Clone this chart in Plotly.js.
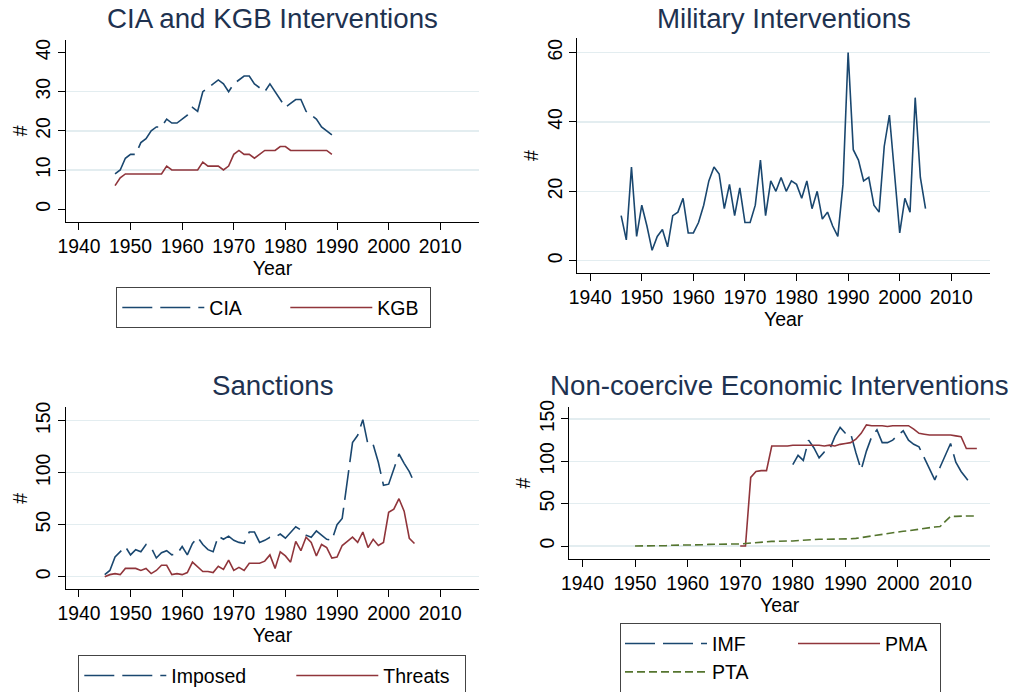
<!DOCTYPE html>
<html><head><meta charset="utf-8">
<script src="https://cdn.plot.ly/plotly-3.0.1.min.js"></script>
<style>html,body{margin:0;padding:0;background:#fff;} #chart{width:1015px;height:692px;}</style>
</head><body><div id="chart"></div>
<script>
// ---- data ----
const ciaStart = 1947;
const cia = [9,10,13,14,14,17,18,20,21,21,23,22,22,23,24,26,25,30,31,32,33,32,30,32,33,34,34,32,31,30,32,30,28,26,27,28,28,25,24,23,21,20,19];
const kgbStart = 1947;
const kgb = [6,8,9,9,9,9,9,9,9,9,11,10,10,10,10,10,10,12,11,11,11,10,11,14,15,14,14,13,14,15,15,15,16,16,15,15,15,15,15,15,15,15,14];
const milStart = 1946;
const military = [13,6,27,7,16,10,3,7,9,4,13,14,18,8,8,11,16,23,27,25,15,22,13,21,11,11,16,29,13,23,20,24,20,23,22,18,23,15,20,12,14,10,7,22,60,32,29,23,24,16,14,33,42,25,8,18,14,47,24,15];
const impStart = 1945;
const imposed = [2,6,19,24,29,21,26,24,31,28,18,23,25,21,22,29,21,32,38,31,26,24,39,36,39,35,33,32,43,43,33,35,38,38,41,37,42,48,45,40,38,44,40,36,35,50,56,93,129,136,151,127,127,110,88,89,103,118,109,101,90];
const thrStart = 1945;
const threats = [0,2,3,2,8,8,8,6,8,3,6,11,11,2,3,2,4,14,9,5,5,4,10,7,16,6,9,6,13,13,13,15,21,8,24,20,14,34,25,38,33,20,31,28,18,19,30,34,38,33,43,28,36,30,33,62,65,75,63,37,32];
const imfStart = 1980;
const imf = [96,107,101,125,116,104,111,114,129,140,133,133,110,90,112,129,137,122,122,125,131,136,125,120,117,104,90,78,93,106,121,99,88,80,72];
const pmaStart = 1970;
const pma = [0,0,81,88,89,89,118,118,118,118,119,119,119,119,119,119,118,119,118,120,121,122,126,133,143,142,142,142,141,142,142,142,142,138,133,132,131,131,131,131,131,130,129,115,115,115];
const ptaStart = 1950;
const pta = [0,0,0,0,0.5,0.5,0.5,1,1,1,1,1.5,1.5,1.5,2,2,2,2,2.5,2.5,2.5,3,3.5,4,5,5,5.5,5.5,6,6,6,6.5,7,7.5,8,8,8,8,8,8,8,8.5,9,10,11,12,13,14,15,16,17,17.5,18,19,20,21,22,22.5,23,29,35,35,35.5,35.5,35.5,35.5];

const xTicks = [1940,1950,1960,1970,1980,1990,2000,2010];
const panelTitles = ['CIA and KGB Interventions','Military Interventions','Sanctions','Non-coercive Economic Interventions'];

function yearsFor(start, arr){ return arr.map((_, i) => start + i); }

// ---- styles ----
const NAVY = '#1A476F', MAROON = '#90353B', GREEN = '#55752F';
const W = 1015, H = 692;
const FONT = 'Liberation Sans, Arial, sans-serif';
const GRID = '#E3EDF0';
const LONGDASH = '30px,8px';

const traces = [
  {x: yearsFor(ciaStart, cia), y: cia, name: 'CIA', mode: 'lines', line: {color: NAVY, width: 1.6, dash: LONGDASH}, xaxis: 'x', yaxis: 'y', legend: 'legend'},
  {x: yearsFor(kgbStart, kgb), y: kgb, name: 'KGB', mode: 'lines', line: {color: MAROON, width: 1.6}, xaxis: 'x', yaxis: 'y', legend: 'legend', legendwidth: 47},
  {x: yearsFor(milStart, military), y: military, name: 'Military', mode: 'lines', line: {color: NAVY, width: 1.6}, xaxis: 'x2', yaxis: 'y2', showlegend: false},
  {x: yearsFor(impStart, imposed), y: imposed, name: 'Imposed', mode: 'lines', line: {color: NAVY, width: 1.6, dash: LONGDASH}, xaxis: 'x3', yaxis: 'y3', legend: 'legend2'},
  {x: yearsFor(thrStart, threats), y: threats, name: 'Threats', mode: 'lines', line: {color: MAROON, width: 1.6}, xaxis: 'x3', yaxis: 'y3', legend: 'legend2', legendwidth: 76},
  {x: yearsFor(imfStart, imf), y: imf, name: 'IMF', mode: 'lines', line: {color: NAVY, width: 1.6, dash: LONGDASH}, xaxis: 'x4', yaxis: 'y4', legend: 'legend3', legendgroup: 'c1'},
  {x: yearsFor(pmaStart, pma), y: pma, name: 'PMA', mode: 'lines', line: {color: MAROON, width: 1.6}, xaxis: 'x4', yaxis: 'y4', legend: 'legend3', legendgroup: 'c2', legendwidth: 49},
  {x: yearsFor(ptaStart, pta), y: pta, name: 'PTA', mode: 'lines', line: {color: GREEN, width: 1.6, dash: '8px,4px'}, xaxis: 'x4', yaxis: 'y4', legend: 'legend3', legendgroup: 'c1'}
];

function xAx(l, r, anchor){
  return {domain: [l / W, r / W], anchor: anchor, range: [1937.5, 2017.5], tickmode: 'array', tickvals: xTicks,
    showline: true, linecolor: '#000', linewidth: 1, ticks: 'outside', ticklen: 7, tickcolor: '#000', tickwidth: 1,
    showgrid: false, zeroline: false, tickfont: {family: FONT, size: 19.3, color: '#000'},
    title: {text: 'Year', font: {family: FONT, size: 19.5, color: '#000'}, standoff: 2}, fixedrange: true};
}
function yAx(top, bot, anchor, range, ticks, grid){
  return {domain: [1 - bot / H, 1 - top / H], anchor: anchor, range: range, tickmode: 'array', tickvals: ticks,
    showline: true, linecolor: '#000', linewidth: 1, ticks: 'outside', ticklen: 7, tickcolor: '#000', tickwidth: 1,
    tickangle: -90, zeroline: false, tickfont: {family: FONT, size: 19.3, color: '#000'},
    showgrid: false,
    minor: {tickmode: 'array', tickvals: grid, showgrid: true, gridcolor: GRID, gridwidth: 1.3, ticks: ''},
    title: {text: '#', font: {family: FONT, size: 19.5, color: '#000'}, standoff: 0}, fixedrange: true};
}

function legendBox(x, y, ew, grouped){
  return {x: x / W, y: 1 - y / H, xanchor: 'left', yanchor: 'top', orientation: 'h',
    bordercolor: '#444', borderwidth: 1.3, bgcolor: '#fff', font: {family: FONT, size: 19.5, color: '#000'},
    entrywidth: ew, entrywidthmode: 'pixels', itemwidth: 82, traceorder: grouped ? 'grouped' : 'normal', tracegroupgap: 0};
}

const titleY = [18, 18, 385, 385];
const titleX = [272.5, 783.6, 272.5, 779.7];
const annotations = panelTitles.map((t, i) => ({
  text: t, xref: 'paper', yref: 'paper', x: titleX[i] / W, y: 1 - titleY[i] / H,
  xanchor: 'center', yanchor: 'middle', showarrow: false,
  font: {family: FONT, size: 27.7, color: '#1E3250'}
}));

const layout = {
  width: W, height: H, margin: {l: 0, r: 0, t: 0, b: 0, autoexpand: false},
  paper_bgcolor: '#fff', plot_bgcolor: '#fff', showlegend: true,
  font: {family: FONT, color: '#000'},
  xaxis: xAx(66, 479, 'y'),
  yaxis: yAx(40, 221.7, 'x', [-3.2, 43.2], [0,10,20,30,40], [10,20,30]),
  xaxis2: xAx(577.3, 990, 'y2'),
  yaxis2: yAx(38, 273.3, 'x2', [-3.63, 64.2], [0,20,40,60], [0,20,40,60]),
  xaxis3: xAx(66, 479, 'y3'),
  yaxis3: yAx(407.3, 589.3, 'x3', [-12.1, 162.9], [0,50,100,150], [0,50,100,150]),
  xaxis4: xAx(569.3, 990, 'y4'),
  yaxis4: yAx(407.3, 559, 'x4', [-15.3, 163.7], [0,50,100,150], [0,50,100,150]),
  legend: legendBox(116, 287, 71, false),
  legend2: legendBox(78, 655, 115, false),
  legend3: legendBox(620, 623, 76, true),
  annotations: annotations
};

Plotly.newPlot('chart', traces, layout, {displayModeBar: false, staticPlot: true});
</script></body></html>
